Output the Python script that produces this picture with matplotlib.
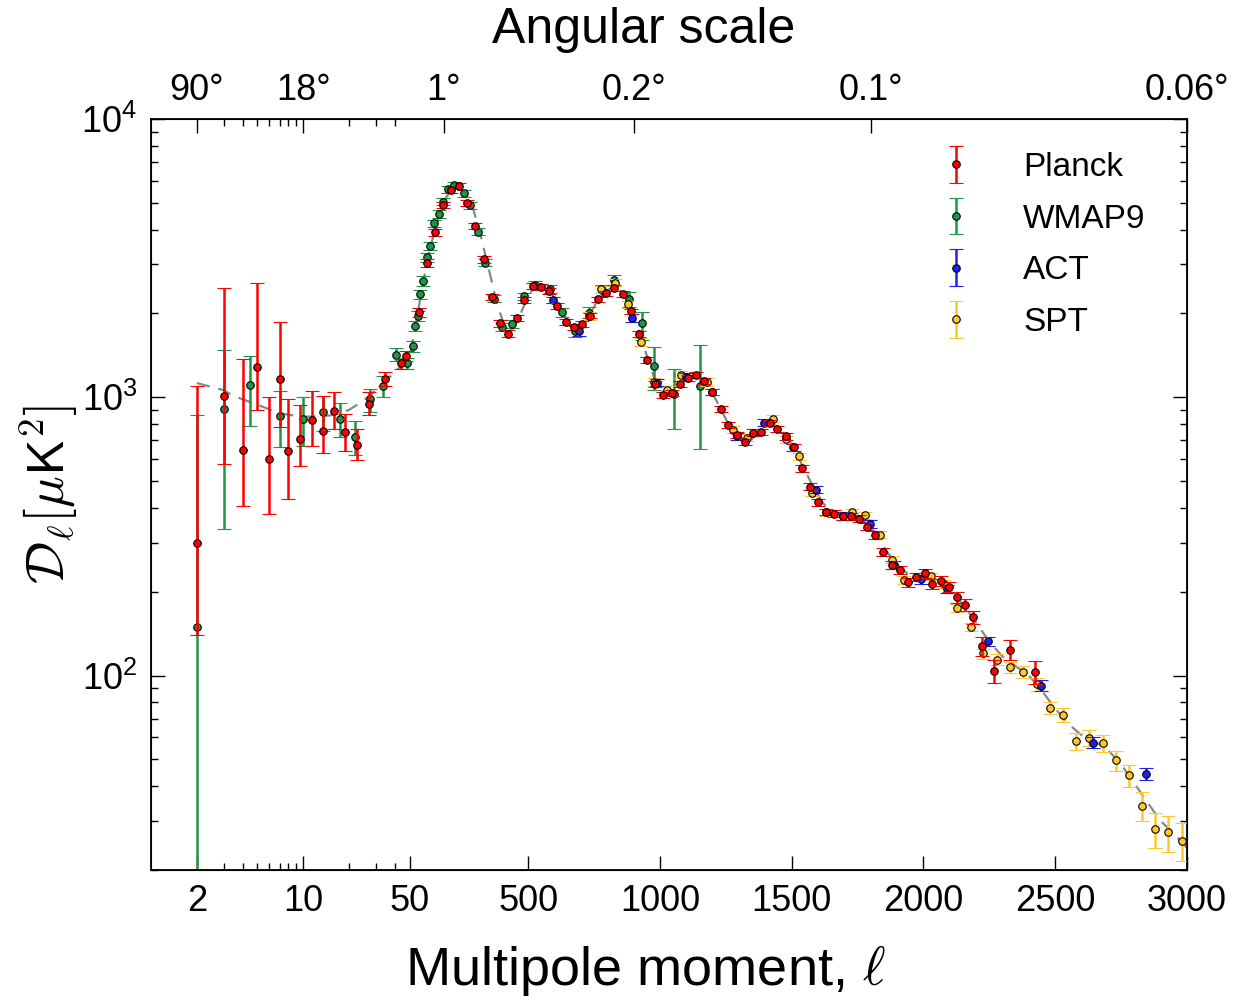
import numpy as np
import matplotlib
matplotlib.use('Agg')
import matplotlib.pyplot as plt
from matplotlib.legend_handler import HandlerErrorbar
from matplotlib.container import ErrorbarContainer

plt.rcParams['font.family'] = ['Liberation Sans', 'DejaVu Sans']
plt.rcParams['mathtext.fontset'] = 'cm'

# ---------------- data ----------------
# Planck
ell_P = [2, 3, 4, 5, 6, 7, 8, 9.5, 11.5, 13.4, 15.9, 18.9, 22.6, 27, 34.4, 44, 47,
         84, 115, 145, 175, 207, 239, 269, 300, 332, 364, 393, 425, 456, 486, 518, 550,
         580, 611, 642, 672, 703, 734, 765, 796, 827, 859, 889, 919, 951, 982, 1013, 1045,
         1075, 1106, 1137, 1168, 1199, 1230, 1260, 1292, 1322, 1354, 1384, 1416, 1446, 1478,
         1508, 1540, 1570, 1600, 1632, 1662, 1694, 1724, 1756, 1786, 1817, 1848, 1880, 1910,
         1942, 1972, 2004, 2034, 2066, 2096, 2128, 2158, 2189, 2223, 2268, 2329, 2424]
D_P = [299, 1008, 644, 1282, 599, 1161, 639, 710, 831, 755, 893, 752, 676, 946, 1164, 1323, 1408,
       2020, 3040, 3915, 4906, 5560, 5737, 4977, 4130, 3127, 2290, 1842, 1694, 1923, 2233, 2514, 2492,
       2405, 2132, 1865, 1792, 1832, 1966, 2246, 2360, 2473, 2347, 2034, 1685, 1359, 1117, 1019, 1036,
       1120, 1177, 1206, 1142, 1041, 910, 795, 731, 690, 747, 748, 806, 768, 723,
       660, 555, 477, 420, 387, 382, 374, 374, 366, 343, 320, 278, 250, 239,
       216, 226, 233, 213, 218, 208, 191, 179, 162, 128, 104, 124, 103]
lo_P = [159, 434, 239, 384, 220, 381, 209, 144, 163, 123, 126, 109, 79, 80, 69, 55, 55,
        70, 90, 110, 130, 140, 140, 120, 100, 80, 60, 48, 44, 48, 55, 60, 60,
        58, 52, 45, 43, 44, 47, 53, 56, 58, 56, 49, 41, 34, 28, 26, 26,
        28, 29, 30, 29, 26, 23, 20, 19, 18, 19, 19, 20, 20, 19,
        17, 15, 13, 12, 11, 11, 11, 11, 11, 10, 10, 9, 8, 8,
        8, 8, 9, 9, 9, 9, 9, 9, 9, 10, 10, 10, 9.5]
hi_P = [796, 1458, 726, 1291, 401, 700, 345, 226, 222, 256, 155, 117, 91, 96, 66, 55, 55,
        70, 90, 110, 130, 140, 140, 120, 100, 80, 60, 48, 44, 48, 55, 60, 60,
        58, 52, 45, 43, 44, 47, 53, 56, 58, 56, 49, 41, 34, 28, 26, 26,
        28, 29, 30, 29, 26, 23, 20, 19, 18, 19, 19, 20, 20, 19,
        17, 15, 13, 12, 11, 11, 11, 11, 11, 10, 10, 9, 8, 8,
        8, 8, 9, 9, 9, 9, 9, 9, 9, 10, 10, 10, 9.5]

# WMAP9
ell_W = [2, 3, 4.47, 7, 10, 13.4, 17.4, 22, 27.4, 33.2, 40.4, 48,
         61, 69, 80, 91, 102, 116, 129, 144, 160, 175, 196, 220, 258, 281, 308, 337,
         369, 401, 440, 483, 527, 582, 629, 679, 730, 781, 825, 882, 931, 979, 1053, 1151]
D_W = [150, 905, 1104, 854, 834, 885, 836, 722, 984, 1095, 1419, 1325,
       1525, 1800, 1955, 2347, 2621, 3184, 3500, 4213, 4554, 5042, 5586, 5789, 5405, 4906, 3932, 3041,
       2264, 1792, 1831, 2309, 2535, 2443, 2017, 1727, 2012, 2424, 2647, 2246, 1850, 1293, 1025, 1097]
lo_W = [149.9, 570, 316, 193, 166, 128, 118, 104, 96, 92, 68, 60,
        70, 75, 80, 90, 100, 110, 120, 130, 140, 150, 160, 160, 150, 140, 110, 90,
        70, 60, 60, 70, 80, 80, 75, 75, 90, 110, 130, 140, 247, 227, 253, 443]
hi_W = [711, 571, 304, 197, 164, 123, 118, 100, 87, 95, 81, 60,
        70, 75, 80, 90, 100, 110, 120, 130, 140, 150, 160, 160, 150, 140, 110, 90,
        70, 60, 60, 70, 80, 80, 75, 75, 90, 110, 100, 140, 179, 223, 243, 441]

# ACT
ell_A = [595, 694, 895, 990, 1100, 1198, 1293, 1394, 1506, 1594, 1694, 1796, 1888, 1989,
         2091, 2243, 2445, 2645, 2845]
D_A = [2240, 1727, 1924, 1129, 1183, 1045, 724, 810, 660, 466, 374, 351, 249, 222,
       205, 133, 92, 57.4, 44.2]
err_A = [60, 70, 60, 35, 35, 30, 22, 24, 20, 15, 12, 11, 8, 8,
         7, 5, 4, 2.5, 2.2]

# SPT
ell_S = [730, 778, 831, 878, 929, 977, 1027, 1078, 1179, 1278, 1329, 1428, 1479, 1526, 1578,
         1631, 1730, 1778, 1835, 1879, 1926, 2027, 2078, 2129, 2179, 2227, 2279, 2330, 2379,
         2430, 2479, 2530, 2579, 2630, 2680, 2729, 2780, 2830, 2879, 2929, 2980]
D_S = [1960, 2445, 2584, 2158, 1581, 1135, 1066, 1206, 1135, 765, 716, 838, 706, 613, 454,
       386, 386, 377, 321, 261, 221, 227, 214, 175, 150, 120, 114, 107, 103,
       92.9, 76.6, 72.2, 58.0, 59.6, 57.3, 49.5, 43.8, 34.1, 28.0, 27.3, 25.5]
err_S = [60, 70, 75, 65, 48, 35, 32, 36, 34, 23, 22, 25, 21, 18, 14,
         12, 12, 11, 10, 8, 7, 7, 7, 6, 5, 5, 5, 5, 5,
         5, 4, 4, 4, 4, 4, 4, 4, 4, 4, 4, 4]

# best-fit model (dashed)
ell_th = [2, 3, 3.5, 5, 7, 10, 15, 20, 25, 30, 40, 50, 70, 100, 130, 160, 190, 215, 230, 260,
          290, 320, 350, 380, 410, 430, 460, 490, 520, 540, 560, 590, 620, 650, 680, 700,
          730, 760, 790, 815, 835, 860, 890, 920, 950, 980, 1010, 1040, 1070, 1100, 1130,
          1160, 1190, 1220, 1260, 1290, 1320, 1350, 1380, 1410, 1440, 1470, 1500, 1540,
          1580, 1620, 1660, 1700, 1740, 1780, 1820, 1860, 1900, 1950, 2000, 2050, 2100,
          2150, 2200, 2250, 2300, 2350, 2400, 2450, 2500, 2550, 2600, 2650, 2700, 2750,
          2800, 2850, 2900, 2950, 3000]
D_th = [1125, 1060, 1010, 940, 875, 850, 860, 900, 975, 1060, 1230, 1400, 1750, 2550, 3500,
        4450, 5250, 5650, 5750, 5450, 4800, 3800, 2900, 2200, 1800, 1720, 1880, 2200, 2480,
        2530, 2490, 2350, 2110, 1880, 1780, 1800, 1960, 2200, 2390, 2470, 2470, 2370, 2080,
        1730, 1410, 1160, 1030, 1020, 1090, 1170, 1200, 1170, 1070, 950, 800, 740, 700, 710,
        760, 800, 790, 740, 680, 570, 480, 415, 385, 375, 372, 355, 318, 280, 250, 228, 225,
        218, 205, 180, 155, 132, 117, 108, 100, 88, 76, 67, 61, 58, 54, 48, 41, 35, 30, 27, 24]

xticks = [2, 10, 50, 500, 1000, 1500, 2000, 2500, 3000]
xminor = [3, 4, 5, 6, 7, 8, 9, 20, 30, 40]
ang_ell = [2, 10, 180, 900, 1800, 3000]
ang_lab = ['90°', '18°', '1°', '0.2°', '0.1°', '0.06°']

# ---------------- hybrid log / linear x scale ----------------
L_BRK = 50.0
K_LIN = 0.0017313  # decades per unit ell above the break


def fwd(x):
    x = np.asarray(x, dtype=float)
    lg = np.log10(np.clip(x, 1e-6, None))
    return np.where(x <= L_BRK, lg, np.log10(L_BRK) + (x - L_BRK) * K_LIN)


def inv(y):
    y = np.asarray(y, dtype=float)
    yl = np.clip(y, -6, np.log10(L_BRK))
    return np.where(y <= np.log10(L_BRK), 10 ** yl, L_BRK + (y - np.log10(L_BRK)) / K_LIN)


fig = plt.figure(figsize=(12.49, 10.01), dpi=100)
ax = fig.add_axes([151 / 1249, 1 - 870 / 1001, 1036 / 1249, 751 / 1001])
ax.set_xscale('function', functions=(fwd, inv))
ax.set_yscale('log')

ax.plot(ell_th, D_th, color='#888888', lw=1.6, dashes=(6, 4), zorder=1)

kw = dict(fmt='o', ms=5.4, mec='k', mew=0.8, elinewidth=1.8, capsize=5, capthick=1.6)
hW = ax.errorbar(ell_W, D_W, yerr=[lo_W, hi_W], color='#1e9646', zorder=2, **kw)
hS = ax.errorbar(ell_S, D_S, yerr=err_S, color='#ffc828', zorder=3, **kw)
hA = ax.errorbar(ell_A, D_A, yerr=err_A, color='#2020ee', zorder=4, **kw)
hP = ax.errorbar(ell_P, D_P, yerr=[lo_P, hi_P], color='#ff0000', zorder=5, **kw)

ax.set_xlim(1.0, 3000)
ax.set_ylim(20, 1e4)

ax.set_xticks(xticks)
ax.set_xticklabels([str(t) for t in xticks])
ax.set_xticks(xminor, minor=True)
ax.set_yticks([100, 1000, 10000])
ax.set_yticklabels([r'$\mathregular{10^{2}}$', r'$\mathregular{10^{3}}$', r'$\mathregular{10^{4}}$'])
ax.tick_params(axis='both', which='major', direction='in', length=10, width=1.0,
               labelsize=26, pad=10)
ax.tick_params(axis='both', which='minor', direction='in', length=5, width=1.0)
ax.tick_params(axis='y', which='both', right=True)
ax.tick_params(axis='x', which='both', top=False)
for s in ax.spines.values():
    s.set_linewidth(1.3)

# top axis: angular scale
ax2 = ax.twiny()
ax2.set_xscale('function', functions=(fwd, inv))
ax2.set_xlim(ax.get_xlim())
ax2.set_xticks(ang_ell)
ax2.set_xticklabels(ang_lab)
ax2.set_xticks(xminor, minor=True)
ax2.tick_params(axis='x', which='major', direction='in', length=10, width=1.0,
                labelsize=26, pad=8)
ax2.tick_params(axis='x', which='minor', direction='in', length=5, width=1.0)

# labels
fig.text(645 / 1249, 1 - 985 / 1001, r'Multipole moment, $\ell$', fontsize=39,
         ha='center', va='baseline')
fig.text(644 / 1249, 1 - 43 / 1001, 'Angular scale', fontsize=36,
         ha='center', va='baseline')
fig.text(49 / 1249, 1 - 494 / 1001, r'$\mathcal{D}_\ell[\mu\mathsf{K}^2]$', fontsize=38,
         rotation=90, ha='center', va='center')

ax.legend([hP, hW, hA, hS], ['Planck', 'WMAP9', 'ACT', 'SPT'],
          handler_map={ErrorbarContainer: HandlerErrorbar(xerr_size=0.55)},
          loc='upper left', bbox_to_anchor=(940 / 1249, 1 - 152 / 1001),
          bbox_transform=fig.transFigure, frameon=False, fontsize=24,
          handlelength=0.95, handletextpad=1.55, labelspacing=0.62, borderpad=0,
          borderaxespad=0)

fig.savefig('out.png', dpi=100)
